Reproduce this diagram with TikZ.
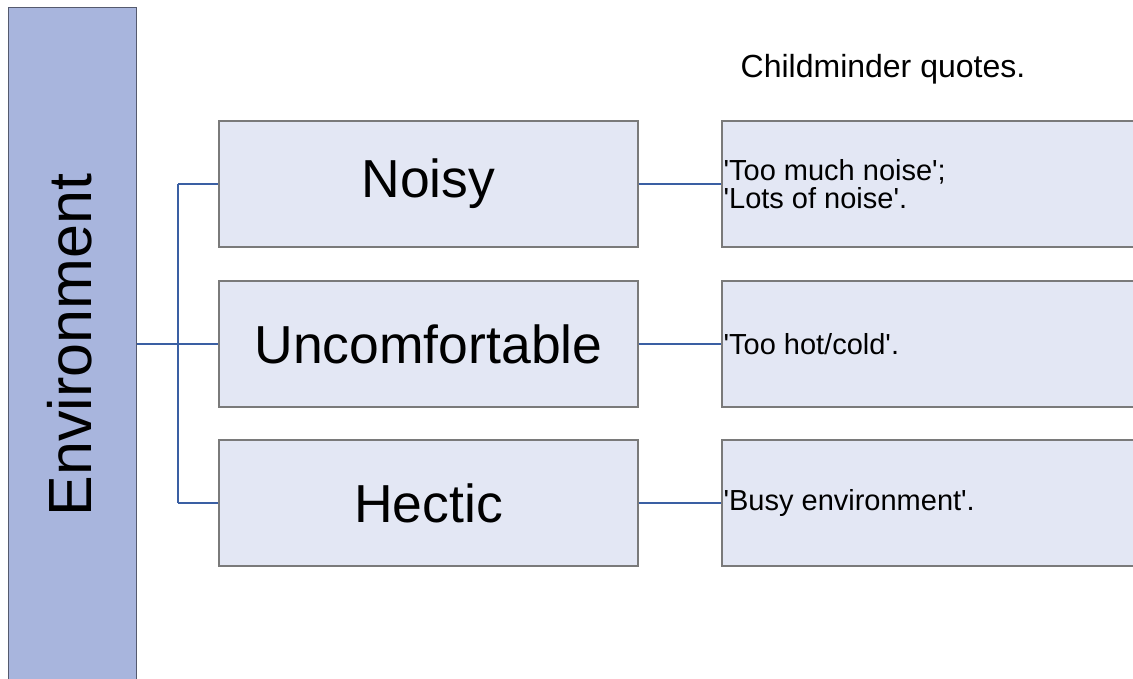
\documentclass[tikz,border=0pt]{standalone}
\usepackage{fontspec}
\setmainfont{Liberation Sans}
\definecolor{envfill}{HTML}{A8B5DD}
\definecolor{envdraw}{HTML}{555A6E}
\definecolor{boxfill}{HTML}{E3E7F4}
\definecolor{boxdraw}{HTML}{7A7A7A}
\definecolor{linkcol}{HTML}{3A5FA3}
\newcommand{\sq}{\textquotesingle}
\begin{document}
\begin{tikzpicture}[x=1pt,y=1pt,
  envbox/.style={draw=envdraw,fill=envfill,line width=1.2pt},
  catbox/.style={draw=boxdraw,fill=boxfill,line width=1.2pt,minimum width=419pt,minimum height=126pt,inner sep=0pt,font=\fontsize{53.5}{60}\selectfont},
  quotebox/.style={draw=boxdraw,fill=boxfill,line width=1.2pt,minimum width=420pt,minimum height=126pt,inner sep=0pt},
  quotetext/.style={anchor=west,inner sep=0pt,align=left,font=\fontsize{29}{28.5}\selectfont},
  link/.style={draw=linkcol,line width=2.4pt}]
\useasboundingbox (0,0) rectangle (1133,679);
\fill[white] (0,0) rectangle (1133,679);
% left box
\node[envbox,minimum width=128pt,minimum height=690pt,inner sep=0pt,anchor=north west] (env) at (8,672) {};
\node[rotate=90,font=\fontsize{61}{70}\selectfont] (envtext) at (70,334) {Environment};
% category boxes
\node[catbox] (noisy) at (428.5,495) {Noisy};
\node[catbox] (uncomf) at (428.5,335) {Uncomfortable};
\node[catbox] (hectic) at (428.5,176) {Hectic};
% quote boxes
\node[quotebox] (q1) at (932,495) {};
\node[quotebox] (q2) at (932,335) {};
\node[quotebox] (q3) at (932,176) {};
\node[quotetext] (t1) at ([xshift=2pt]q1.west) {\sq Too much noise\sq;\\\sq Lots of noise\sq.};
\node[quotetext] (t2) at ([xshift=2pt]q2.west) {\sq Too hot/cold\sq.};
\node[quotetext] (t3) at ([xshift=2pt]q3.west) {\sq Busy environment\sq.};
\node[font=\fontsize{32}{36}\selectfont] (title) at (883,610) {Childminder quotes.};
% connectors
\coordinate (bus) at (178,335);
\draw[link] (env.east |- uncomf.west) -- (uncomf.west);
\draw[link] (bus |- noisy.west) -- (noisy.west);
\draw[link] (bus |- hectic.west) -- (hectic.west);
\draw[link] (bus |- noisy.west) -- (bus |- hectic.west);
\draw[link] (noisy.east) -- (q1.west);
\draw[link] (uncomf.east) -- (q2.west);
\draw[link] (hectic.east) -- (q3.west);
\end{tikzpicture}
\end{document}
